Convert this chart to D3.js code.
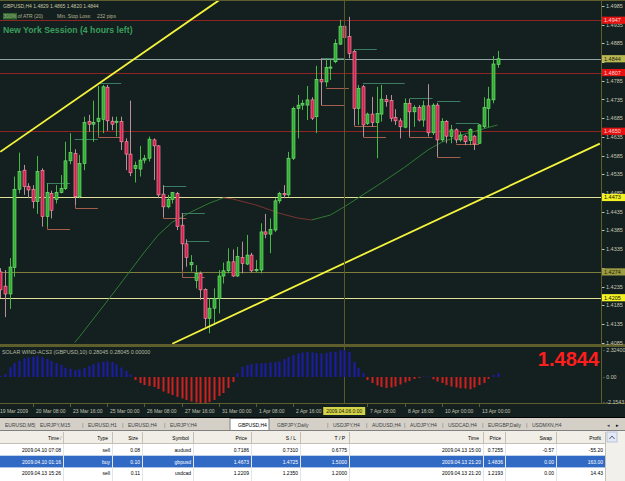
<!DOCTYPE html>
<html>
<head>
<meta charset="utf-8">
<script src="https://cdn.jsdelivr.net/npm/d3@7"></script>
<style>
  body { margin: 0; background: #d4d0c8; }
  svg text { font-family: "Liberation Sans", Arial, sans-serif; }
</style>
</head>
<body>
<svg id="chart" width="625" height="481"></svg>
<script>
// GBPUSD H4 bars (bar 0 = left edge, bar 107 = last bar)
const openP = [
  1.4274,1.4236,1.4215,1.4286,1.4495,1.4546,1.4502,1.4495,1.4462,1.4545,
  1.4422,1.4484,1.4468,1.4486,1.4497,1.4571,1.4591,1.4475,1.4564,1.4676,
  1.4669,1.4676,1.4682,1.4768,1.4677,1.4673,1.4676,1.4622,1.4589,1.4550,
  1.4549,1.4573,1.4578,1.4627,1.4611,1.4482,1.4448,1.4468,1.4484,1.4399,
  1.4349,1.4293,1.4251,1.4270,1.4227,1.4150,1.4177,1.4203,1.4263,1.4277,
  1.4301,1.4263,1.4313,1.4295,1.4319,1.4277,1.4279,1.4381,1.4375,1.4386,
  1.4464,1.4484,1.4480,1.4578,1.4711,1.4720,1.4720,1.4734,1.4689,1.4789,
  1.4782,1.4820,1.4836,1.4883,1.4931,1.4903,1.4863,1.4711,1.4769,1.4671,
  1.4696,1.4673,1.4696,1.4735,1.4732,1.4687,1.4678,1.4661,1.4725,1.4702,
  1.4714,1.4680,1.4718,1.4646,1.4720,1.4627,1.4676,1.4636,1.4654,1.4627,
  1.4637,1.4625,1.4637,1.4618,1.4662,1.4711,1.4734,1.4829];
const highP = [
  1.4284,1.4279,1.4311,1.4529,1.4593,1.4560,1.4511,1.4506,1.4584,1.4551,
  1.4511,1.4491,1.4506,1.4533,1.4622,1.4645,1.4602,1.4587,1.4689,1.4694,
  1.4732,1.4771,1.4774,1.4774,1.4689,1.4689,1.4689,1.4631,1.4732,1.4569,
  1.4611,1.4587,1.4636,1.4631,1.4613,1.4506,1.4480,1.4488,1.4488,1.4431,
  1.4361,1.4319,1.4292,1.4275,1.4230,1.4203,1.4230,1.4279,1.4299,1.4337,
  1.4334,1.4341,1.4355,1.4373,1.4325,1.4306,1.4404,1.4429,1.4417,1.4471,
  1.4488,1.4506,1.4595,1.4716,1.4747,1.4734,1.4771,1.4741,1.4825,1.4845,
  1.4845,1.4841,1.4896,1.4948,1.4949,1.4956,1.4867,1.4774,1.4774,1.4700,
  1.4742,1.4769,1.4774,1.4747,1.4747,1.4709,1.4685,1.4738,1.4736,1.4720,
  1.4720,1.4732,1.4776,1.4725,1.4726,1.4685,1.4680,1.4667,1.4658,1.4649,
  1.4640,1.4658,1.4640,1.4669,1.4741,1.4769,1.4851,1.4865];
const lowP = [
  1.4204,1.4153,1.4175,1.4261,1.4484,1.4480,1.4471,1.4444,1.4429,1.4395,
  1.4395,1.4417,1.4457,1.4484,1.4493,1.4562,1.4453,1.4471,1.4546,1.4649,
  1.4622,1.4640,1.4645,1.4651,1.4653,1.4636,1.4600,1.4546,1.4530,1.4513,
  1.4529,1.4564,1.4569,1.4520,1.4471,1.4421,1.4444,1.4457,1.4386,1.4279,
  1.4288,1.4275,1.4230,1.4199,1.4127,1.4110,1.4132,1.4163,1.4243,1.4270,
  1.4261,1.4261,1.4270,1.4292,1.4272,1.4274,1.4270,1.4364,1.4324,1.4381,
  1.4457,1.4471,1.4475,1.4573,1.4631,1.4707,1.4680,1.4680,1.4645,1.4720,
  1.4769,1.4787,1.4832,1.4881,1.4889,1.4845,1.4667,1.4667,1.4636,1.4667,
  1.4662,1.4578,1.4676,1.4716,1.4676,1.4667,1.4631,1.4658,1.4636,1.4662,
  1.4676,1.4662,1.4636,1.4640,1.4582,1.4622,1.4618,1.4618,1.4618,1.4622,
  1.4613,1.4613,1.4600,1.4616,1.4658,1.4661,1.4725,1.4820];
const closeP = [
  1.4226,1.4215,1.4287,1.4495,1.4542,1.4502,1.4493,1.4462,1.4542,1.4422,
  1.4486,1.4439,1.4486,1.4497,1.4571,1.4593,1.4475,1.4564,1.4673,1.4669,
  1.4674,1.4685,1.4769,1.4678,1.4669,1.4677,1.4622,1.4589,1.4539,1.4559,
  1.4573,1.4578,1.4629,1.4611,1.4480,1.4448,1.4468,1.4486,1.4395,1.4349,
  1.4313,1.4299,1.4270,1.4226,1.4150,1.4177,1.4203,1.4263,1.4277,1.4301,
  1.4263,1.4315,1.4297,1.4319,1.4277,1.4281,1.4381,1.4375,1.4388,1.4464,
  1.4484,1.4480,1.4578,1.4711,1.4720,1.4725,1.4734,1.4685,1.4789,1.4782,
  1.4821,1.4822,1.4885,1.4931,1.4901,1.4858,1.4711,1.4765,1.4667,1.4696,
  1.4673,1.4698,1.4736,1.4729,1.4685,1.4678,1.4662,1.4725,1.4702,1.4714,
  1.4680,1.4718,1.4646,1.4720,1.4627,1.4676,1.4637,1.4654,1.4627,1.4640,
  1.4622,1.4655,1.4616,1.4667,1.4714,1.4736,1.4830,1.4844];

// SOLAR WIND histogram, one value per bar
const windVal = [
  0.10,0.25,0.85,1.20,1.40,1.60,1.70,1.75,1.80,1.70,
  1.55,1.40,1.20,1.05,0.80,0.70,0.60,0.65,0.78,0.95,
  1.12,1.25,1.32,1.34,1.30,1.08,0.82,0.52,0.22,-0.26,
  -0.52,-0.69,-0.78,-0.86,-1.03,-1.25,-1.42,-1.55,-1.72,-1.85,
  -1.98,-2.11,-2.20,-2.27,-2.27,-2.16,-1.98,-1.64,-1.38,-0.95,
  -0.43,0.34,0.86,1.03,1.12,1.16,1.18,1.20,1.25,1.29,
  1.34,1.55,1.72,1.90,2.03,2.11,2.16,2.11,2.07,2.03,
  2.07,2.16,2.18,2.29,2.32,2.16,1.29,0.78,0.34,-0.26,
  -0.52,-0.73,-0.86,-0.95,-0.90,-0.82,-0.65,-0.47,-0.34,-0.17,
  -0.09,0.05,0.05,-0.20,-0.39,-0.52,-0.69,-0.82,-0.90,-0.97,
  -0.99,-1.06,-0.90,-0.69,-0.52,-0.17,0.17,0.32];

// slow moving average (sampled points)
const maIdx = [16, 17, 24, 31, 34, 37, 41, 45, 48, 50, 55, 60, 64, 67, 71, 74, 77, 82, 87, 92, 95, 100, 107];
const maVal = [1.4085, 1.4100, 1.4212, 1.4327, 1.4373, 1.4407, 1.4434, 1.4458, 1.4472, 1.4469, 1.4453, 1.4431,
               1.4418, 1.4413, 1.4426, 1.4448, 1.4472, 1.4512, 1.4554, 1.4600, 1.4621, 1.4643, 1.4667];

// short resistance / support marks
const resIdx = [10, 16, 21, 35, 39, 40, 69, 76, 78, 88, 94, 98];
const resPrice = [1.4512, 1.4629, 1.4779, 1.4504, 1.4431, 1.4357, 1.4846, 1.4870, 1.4779, 1.4739, 1.4731, 1.4672];
const resLen = [5, 5, 5, 5, 5, 5, 5, 5, 9, 5, 5, 5];
const supIdx = [10, 16, 21, 35, 39, 69, 70, 76, 78, 88, 94, 98];
const supPrice = [1.4389, 1.4445, 1.4635, 1.4418, 1.4260, 1.4720, 1.4766, 1.4664, 1.4635, 1.4635, 1.4581, 1.4616];
const supTop = [1.4418, 1.4474, 1.4688, 1.4480, 1.4421, 1.4846, 1.4766, 1.4712, 1.4667, 1.4701, 1.4627, 1.4616];

// trend lines (bar index, price)
const upperTrendIdx = [0, 47];
const upperTrendPrice = [1.4595, 1.5000];
const lowerTrendIdx = [37, 129];
const lowerTrendPrice = [1.4082, 1.4617];

// horizontal levels
const levelPrices = [1.4947, 1.4844, 1.4807, 1.4650, 1.4473, 1.4274, 1.4205];

const priceTicks = [1.4985, 1.4935, 1.4885, 1.4835, 1.4785, 1.4735, 1.4685, 1.4635, 1.4585, 1.4535,
                    1.4485, 1.4435, 1.4385, 1.4335, 1.4285, 1.4235, 1.4185, 1.4135, 1.4085];
const windTicks = [2.324, 0, -2.1543];
const windTickText = ['2.32400', '0.00', '-2.1543'];

const timeLabelIdx = [7, 15, 23, 31, 39, 47, 55, 63, 79, 87, 95, 103];
const timeLabelText = ['20 Mar 08:00', '23 Mar 16:00', '25 Mar 00:00', '26 Mar 08:00', '27 Mar 16:00', '31 Mar 00:00',
                       '1 Apr 08:00', '2 Apr 16:00', '7 Apr 08:00', '8 Apr 16:00', '10 Apr 00:00', '13 Apr 00:00'];
const crossIdx = 74;
const crossText = '2009.04.06 0:00';

// terminal
const tabNames = ['EURUSD,M5', 'EURJPY,M15', 'EURUSD,H1', 'EURUSD,H4', 'EURJPY,H4', 'GBPUSD,H4', 'GBPJPY,Daily',
                  'USDJPY,H4', 'AUDUSD,H4', 'AUDJPY,H4', 'USDCAD,H4', 'EURGBP,Daily', 'USDMXN,H4'];
const colNames = ['Time', 'Type', 'Size', 'Symbol', 'Price', 'S / L', 'T / P', 'Time', 'Price', 'Swap', 'Profit'];
const openTimes = ['2009.04.10 07:08', '2009.04.10 01:16', '2009.04.13 15:26'];
const orderTypes = ['sell', 'buy', 'sell'];
const orderSizes = ['0.08', '0.10', '0.11'];
const orderSymbols = ['audusd', 'gbpusd', 'usdcad'];
const openPrices = ['0.7186', '1.4673', '1.2209'];
const stopLosses = ['0.7310', '1.4725', '1.2350'];
const takeProfits = ['0.6775', '1.5000', '1.2000'];
const nowTimes = ['2009.04.13 15:00', '2009.04.13 21:20', '2009.04.13 21:20'];
const nowPrices = ['0.7255', '1.4836', '1.2193'];
const swaps = ['-0.57', '0.00', '0.00'];
const profits = ['-55.20', '163.00', '14.43'];

// ---------------------------------------------------------------
const svg = d3.select('#chart');
const plotRight = 601, mainBot = 345, indTop = 347, indBot = 403, chartBot = 417;
const bg = '#13201f', olive = '#5e5e2c', axisText = '#c4c4b4';

const x = d3.scaleLinear().domain([0, 107]).range([0.3, 497.6]);
const y = d3.scaleLinear().domain([1.4085, 1.4985]).range([342.6, 6]);
const yw = d3.scaleLinear().domain([-2.1543, 2.324]).range([402, 350]);

svg.append('rect').attr('width', 625).attr('height', chartBot).attr('fill', bg);

const defs = svg.append('defs');
defs.append('clipPath').attr('id', 'clipMain').append('rect')
  .attr('x', 0).attr('y', 1).attr('width', plotRight).attr('height', mainBot - 1);
defs.append('clipPath').attr('id', 'clipInd').append('rect')
  .attr('x', 0).attr('y', indTop).attr('width', plotRight).attr('height', indBot - indTop);

const main = svg.append('g').attr('clip-path', 'url(#clipMain)');

// horizontal levels
const levelColors = ['#8e2424', '#8fa4a4', '#8e2424', '#8e2424', '#e2e296', '#7d7d3c', '#e2e296'];
main.selectAll('.level').data(levelPrices).enter().append('line')
  .attr('x1', 0).attr('x2', plotRight)
  .attr('y1', d => Math.round(y(d)) + 0.5).attr('y2', d => Math.round(y(d)) + 0.5)
  .attr('stroke', (d, i) => levelColors[i]).attr('stroke-width', 1);

// moving average, colour by direction
for (let k = 1; k < maIdx.length; k++) {
  main.append('line')
    .attr('x1', x(maIdx[k - 1])).attr('y1', y(maVal[k - 1]))
    .attr('x2', x(maIdx[k])).attr('y2', y(maVal[k]))
    .attr('stroke', maVal[k] >= maVal[k - 1] ? '#2f7a34' : '#7a3430')
    .attr('stroke-width', 1);
}

// support / resistance marks
main.selectAll('.res').data(resIdx).enter().append('line')
  .attr('x1', d => x(d)).attr('x2', (d, i) => x(d + resLen[i]))
  .attr('y1', (d, i) => Math.round(y(resPrice[i])) + 0.5).attr('y2', (d, i) => Math.round(y(resPrice[i])) + 0.5)
  .attr('stroke', '#3b7d62').attr('stroke-width', 1);
main.selectAll('.sup').data(supIdx).enter().append('path')
  .attr('d', (d, i) => {
    const yy = Math.round(y(supPrice[i])) + 0.5, xx = Math.round(x(d)) + 0.5;
    return 'M' + xx + ',' + y(supTop[i]) + 'V' + yy + 'H' + x(d + 5);
  })
  .attr('fill', 'none').attr('stroke', '#a35f4c').attr('stroke-width', 1);

// period line
svg.append('line')
  .attr('x1', Math.round(x(crossIdx)) + 0.5).attr('x2', Math.round(x(crossIdx)) + 0.5)
  .attr('y1', 0).attr('y2', indBot)
  .attr('stroke', '#5a5a26').attr('stroke-width', 1);

// candles
const bars = d3.range(openP.length);
main.selectAll('.wick').data(bars).enter().append('line')
  .attr('x1', i => Math.round(x(i)) + 0.5).attr('x2', i => Math.round(x(i)) + 0.5)
  .attr('y1', i => y(highP[i])).attr('y2', i => y(lowP[i]))
  .attr('stroke', i => closeP[i] >= openP[i] ? '#45b845' : '#b8909a')
  .attr('stroke-width', 1);
main.selectAll('.body').data(bars).enter().append('rect')
  .attr('x', i => Math.round(x(i)) - 1)
  .attr('y', i => y(Math.max(openP[i], closeP[i])))
  .attr('width', 3)
  .attr('height', i => Math.max(1.2, Math.abs(y(openP[i]) - y(closeP[i]))))
  .attr('fill', i => closeP[i] >= openP[i] ? '#2fae2f' : '#d4204e')
  .attr('stroke', i => closeP[i] >= openP[i] ? '#7ee87e' : '#ff9db2')
  .attr('stroke-width', 0.6);

// trend lines
main.append('line')
  .attr('x1', x(upperTrendIdx[0])).attr('y1', y(upperTrendPrice[0]))
  .attr('x2', x(upperTrendIdx[1])).attr('y2', y(upperTrendPrice[1]))
  .attr('stroke', '#f4f43c').attr('stroke-width', 1.8);
main.append('line')
  .attr('x1', x(lowerTrendIdx[0])).attr('y1', y(lowerTrendPrice[0]))
  .attr('x2', x(lowerTrendIdx[1])).attr('y2', y(lowerTrendPrice[1]))
  .attr('stroke', '#f4f43c').attr('stroke-width', 1.8);

// indicator histogram
const ind = svg.append('g').attr('clip-path', 'url(#clipInd)');
ind.selectAll('.hist').data(bars).enter().append('rect')
  .attr('x', i => Math.round(x(i)) - 0.5)
  .attr('width', 2)
  .attr('y', i => Math.min(yw(windVal[i]), yw(0)))
  .attr('height', i => Math.abs(yw(windVal[i]) - yw(0)))
  .attr('fill', i => windVal[i] >= 0 ? '#1c1caa' : '#cf2020');

// frames
svg.append('line').attr('x1', 0).attr('x2', 625).attr('y1', 0.5).attr('y2', 0.5).attr('stroke', olive);
svg.append('rect').attr('x', 0).attr('y', mainBot - 1).attr('width', 625).attr('height', 3).attr('fill', olive);
svg.append('line').attr('x1', 0).attr('x2', 625).attr('y1', indBot + 0.5).attr('y2', indBot + 0.5).attr('stroke', olive);
svg.append('line').attr('x1', plotRight + 0.5).attr('x2', plotRight + 0.5).attr('y1', 0).attr('y2', indBot)
  .attr('stroke', olive);

// price axis (labels hidden behind a level box are skipped)
const shownTicks = priceTicks.filter(t => levelPrices.every(p => Math.abs(y(p) - y(t)) > 4.3));
const pAxis = svg.append('g');
pAxis.selectAll('.pt').data(priceTicks).enter().append('line')
  .attr('x1', plotRight + 1).attr('x2', plotRight + 3.5)
  .attr('y1', d => Math.round(y(d)) + 0.5).attr('y2', d => Math.round(y(d)) + 0.5)
  .attr('stroke', axisText);
pAxis.selectAll('.pl').data(shownTicks).enter().append('text')
  .attr('x', plotRight + 5).attr('y', d => y(d) + 2)
  .attr('font-size', 5.5).attr('fill', axisText)
  .text(d => d.toFixed(4));

// level price boxes
const boxFill = ['#e61212', '#b9b952', '#e61212', '#e61212', '#f2f224', '#9c9c42', '#f2f224'];
const boxText = ['#ffd8d8', '#1a1a10', '#ffd8d8', '#ffd8d8', '#101000', '#1a1a00', '#101000'];
levelPrices.forEach((p, i) => {
  const yy = y(p);
  svg.append('rect').attr('x', plotRight + 1).attr('y', yy - 3.6).attr('width', 23).attr('height', 7.2)
    .attr('fill', boxFill[i]);
  svg.append('text').attr('x', plotRight + 3).attr('y', yy + 2)
    .attr('font-size', 5.5).attr('fill', boxText[i]).text(p.toFixed(4));
});

// indicator axis
svg.selectAll('.wt').data(windTicks).enter().append('text')
  .attr('x', plotRight + 2).attr('y', d => yw(d) + 2)
  .attr('font-size', 5.3).attr('fill', axisText)
  .text((d, i) => '- ' + windTickText[i]);

// time axis
svg.append('text').attr('x', 0).attr('y', 413).attr('font-size', 5).attr('fill', axisText).text('19 Mar 2009');
timeLabelIdx.forEach((t, k) => {
  const xx = Math.round(x(t)) + 0.5;
  svg.append('line').attr('x1', xx).attr('x2', xx).attr('y1', indBot + 1).attr('y2', indBot + 4)
    .attr('stroke', olive);
  svg.append('text').attr('x', xx + 2.5).attr('y', 413).attr('font-size', 5).attr('fill', axisText)
    .text(timeLabelText[k]);
});
const cx = x(crossIdx);
svg.append('rect').attr('x', cx - 21).attr('y', 407).attr('width', 42).attr('height', 8).attr('fill', '#d4d44a');
svg.append('text').attr('x', cx).attr('y', 413).attr('text-anchor', 'middle')
  .attr('font-size', 5).attr('fill', '#1a1a00').text(crossText);

// header texts
svg.append('text').attr('x', 3).attr('y', 7.5).attr('font-size', 5).attr('fill', '#c9c6a4')
  .text('GBPUSD,H4  1.4829 1.4865 1.4820 1.4844');
svg.append('rect').attr('x', 3).attr('y', 13).attr('width', 14).attr('height', 6.5).attr('fill', '#2d6a2d');
svg.append('text').attr('x', 3.5).attr('y', 18.2).attr('font-size', 5).attr('fill', '#b4b290')
  .text('300% of ATR (20)');
svg.append('text').attr('x', 57).attr('y', 18.2).attr('font-size', 5).attr('fill', '#b4b290')
  .text('Min. Stop Loss:');
svg.append('text').attr('x', 97).attr('y', 18.2).attr('font-size', 5).attr('fill', '#b4b290')
  .text('232 pips');
svg.append('text').attr('x', 3).attr('y', 33).attr('font-size', 8.7).attr('font-weight', 'bold')
  .attr('fill', '#3a9d5d').text('New York Session (4 hours left)');

svg.append('text').attr('x', 2).attr('y', 354).attr('font-size', 5.4).attr('fill', '#b8b8a4')
  .text('SOLAR WIND-ACS3 (GBPUSD,10) 0.28045 0.28045 0.00000');
svg.append('text').attr('x', 599).attr('y', 366).attr('text-anchor', 'end')
  .attr('font-size', 20).attr('font-weight', 'bold').attr('fill', '#ff1e1e')
  .text(closeP[closeP.length - 1].toFixed(4));

// ---------------- terminal -----------------
svg.append('line').attr('x1', 0).attr('x2', 625).attr('y1', chartBot + 0.5).attr('y2', chartBot + 0.5)
  .attr('stroke', '#000');
const tabX = [5, 40, 88, 128, 170, 238, 277, 333, 372, 410, 448, 488, 532];
svg.append('line').attr('x1', 0).attr('x2', 625).attr('y1', 430.5).attr('y2', 430.5).attr('stroke', '#808080');
svg.append('rect').attr('x', 230).attr('y', 418.5).attr('width', 39).attr('height', 12)
  .attr('fill', '#fff').attr('stroke', '#808080');
tabNames.forEach((t, i) => {
  svg.append('text').attr('x', tabX[i]).attr('y', 426.5).attr('font-size', 5)
    .attr('fill', i === 5 ? '#000' : '#404040').text(t);
  if (i < tabNames.length - 1 && i !== 4 && i !== 5) {
    svg.append('text').attr('x', tabX[i + 1] - 6).attr('y', 426.5).attr('font-size', 5.5)
      .attr('fill', '#707070').text('|');
  }
});
svg.append('text').attr('x', 607).attr('y', 426.5).attr('font-size', 5).attr('fill', '#404040').text('◂');
svg.append('text').attr('x', 616).attr('y', 426.5).attr('font-size', 5).attr('fill', '#000').text('▸');

const colRight = [63, 112, 142, 193, 251, 300, 349, 483, 505, 556, 605];
const rowTop = 444, rowH = 11.7;
svg.append('rect').attr('x', 0).attr('y', 431).attr('width', 606).attr('height', 50).attr('fill', '#fff');
svg.append('rect').attr('x', 0).attr('y', 431).attr('width', 606).attr('height', 12.5).attr('fill', '#f0eee6');
svg.append('rect').attr('x', 0).attr('y', rowTop + rowH).attr('width', 606).attr('height', rowH).attr('fill', '#316ac5');
colRight.forEach((c, i) => {
  svg.append('line').attr('x1', c + 0.5).attr('x2', c + 0.5).attr('y1', 432).attr('y2', 443)
    .attr('stroke', '#c4c0b4');
  svg.append('line').attr('x1', c + 0.5).attr('x2', c + 0.5).attr('y1', rowTop).attr('y2', 481)
    .attr('stroke', i === colRight.length - 1 ? '#c4c0b4' : '#e4e4e4');
  svg.append('text').attr('x', c - 4).attr('y', 439.5).attr('text-anchor', 'end')
    .attr('font-size', 5).attr('fill', '#000').text(colNames[i]);
});
svg.append('text').attr('x', 60).attr('y', 439.5).attr('font-size', 5).attr('fill', '#808080').text('/');
svg.append('line').attr('x1', 0).attr('x2', 606).attr('y1', 443.5).attr('y2', 443.5).attr('stroke', '#c4c0b4');

const cols = [openTimes, orderTypes, orderSizes, orderSymbols, openPrices, stopLosses, takeProfits,
              nowTimes, nowPrices, swaps, profits];
for (let r = 0; r < 3; r++) {
  cols.forEach((col, i) => {
    svg.append('text').attr('x', colRight[i] - 2).attr('y', rowTop + r * rowH + 7.8)
      .attr('text-anchor', 'end').attr('font-size', 5)
      .attr('fill', r === 1 ? '#fff' : '#000').text(col[r]);
  });
}
// scrollbar
svg.append('rect').attr('x', 606).attr('y', 431).attr('width', 19).attr('height', 50).attr('fill', '#f2f0ea');
svg.append('rect').attr('x', 607).attr('y', 432).attr('width', 10).attr('height', 10)
  .attr('fill', '#e4e8f4').attr('stroke', '#b8c4dc');
svg.append('path').attr('d', 'M609.5,439L612,436L614.5,439').attr('fill', 'none').attr('stroke', '#4d6185');
</script>
</body>
</html>
